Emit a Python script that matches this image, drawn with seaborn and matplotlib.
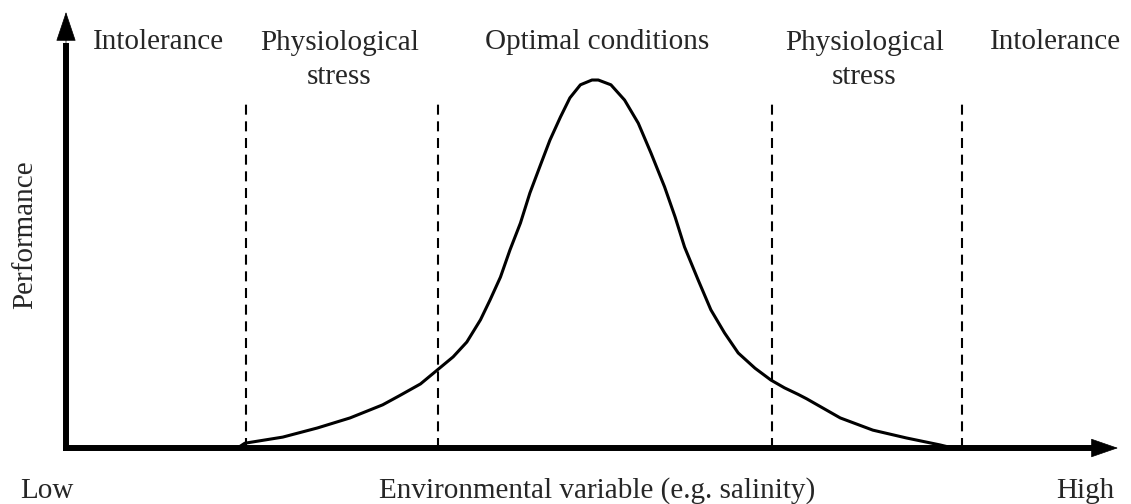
import numpy as np
import pandas as pd
import matplotlib
matplotlib.use("Agg")
import matplotlib.pyplot as plt
import seaborn as sns

# performance curve (x: 0-100 env. variable, y: 0-1 performance)
env_x = [16.3, 17.0, 20.6, 23.9, 27.0, 30.1, 31.7, 33.7, 35.4, 36.8, 38.1, 39.4,
         40.3, 41.3, 42.2, 43.2, 44.1, 45.1, 46.0, 47.0, 47.9, 48.9, 50.0, 50.6,
         51.8, 53.1, 54.4, 55.6, 56.9, 57.9, 58.8, 60.1, 61.3, 62.6, 63.9, 65.5,
         67.0, 68.3, 69.6, 70.4, 73.6, 76.7, 79.9, 83.1, 84.3]
perf_y = [0.0, 0.011, 0.025, 0.046, 0.069, 0.099, 0.120, 0.147, 0.181, 0.209, 0.243, 0.294,
          0.339, 0.392, 0.454, 0.516, 0.585, 0.649, 0.706, 0.759, 0.803, 0.833, 0.844, 0.844,
          0.833, 0.798, 0.745, 0.677, 0.599, 0.530, 0.461, 0.385, 0.317, 0.264, 0.218, 0.183,
          0.156, 0.138, 0.123, 0.113, 0.069, 0.041, 0.023, 0.007, 0.0]

zone_bounds = [17.1, 35.4, 67.1, 85.2]
zone_labels = ["Intolerance", "Physiological\nstress", "Optimal conditions",
               "Physiological\nstress", "Intolerance"]
zone_label_x = [2.6, 26.0, 50.5, 75.9, 94.1]
zone_label_ha = ["left", "center", "center", "center", "center"]

curve = pd.DataFrame({"env": env_x, "perf": perf_y})

sns.set_theme(style="white")
plt.rcParams["font.family"] = ["Liberation Serif", "DejaVu Serif"]
plt.rcParams["lines.scale_dashes"] = False

fig = plt.figure(figsize=(11.31, 5.04), dpi=100)
ax = fig.add_axes([0, 0, 1, 1])
ax.set_xlim(-6.274, 101.24)
ax.set_ylim(-0.1284, 1.0275)
ax.axis("off")

# axes with arrow heads
ax.plot([-0.3, 97.6], [0, 0], color="black", lw=4.3, solid_capstyle="butt")
ax.plot([0, 0], [-0.007, 0.93], color="black", lw=4.3, solid_capstyle="butt")
ax.annotate("", xy=(100, 0), xytext=(97, 0),
            arrowprops=dict(arrowstyle="-|>,head_length=1.3,head_width=0.45",
                            mutation_scale=14, lw=0.5, fc="black", ec="black",
                            shrinkA=0, shrinkB=0))
ax.annotate("", xy=(0, 1.0), xytext=(0, 0.9),
            arrowprops=dict(arrowstyle="-|>,head_length=1.4,head_width=0.47",
                            mutation_scale=14, lw=0.5, fc="black", ec="black",
                            shrinkA=0, shrinkB=0))

# zone boundaries
for xb in zone_bounds:
    ax.plot([xb, xb], [0, 0.794], color="black", lw=1.5, dashes=(7.2, 4.8))

sns.lineplot(data=curve, x="env", y="perf", ax=ax, color="black", lw=2.2,
             estimator=None, sort=False)
ax.lines[-1].set_solid_joinstyle("round")

for lab, xl, ha in zip(zone_labels, zone_label_x, zone_label_ha):
    va_y = 0.931 if "\n" not in lab else 0.890
    ax.text(xl, va_y, lab, ha=ha, va="center", fontsize=21, linespacing=1.42)

ax.text(-1.8, -0.098, "Low", ha="center", va="center", fontsize=21)
ax.text(50.5, -0.098, "Environmental variable (e.g. salinity)", ha="center",
        va="center", fontsize=21)
ax.text(96.9, -0.098, "High", ha="center", va="center", fontsize=21)
ax.text(-3.9, 0.489, "Performance", ha="center", va="center", rotation=90, fontsize=21)

fig.savefig("out.png", dpi=100)
